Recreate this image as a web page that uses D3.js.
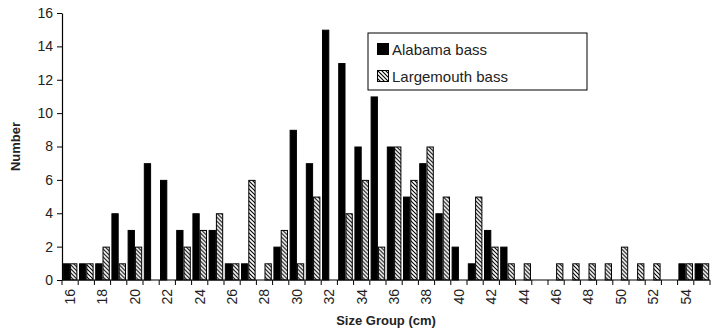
<!DOCTYPE html>
<html>
<head>
<meta charset="utf-8">
<script src="https://cdn.jsdelivr.net/npm/d3@7"></script>
<style>
  body { margin: 0; background: #fff; }
  svg { font-family: "Liberation Sans", Arial, sans-serif; }
</style>
</head>
<body>
<svg id="chart" width="723" height="333"></svg>
<script>
// Data
const sizeGroups = d3.range(16, 56);
const alabama = [1, 1, 1, 4, 3, 7, 6, 3, 4, 3, 1, 1, 0, 2, 9, 7, 15, 13, 8, 11, 8, 5, 7, 4, 2, 1, 3, 2, 0, 0, 0, 0, 0, 0, 0, 0, 0, 0, 1, 1];
const largemouth = [1, 1, 2, 1, 2, 0, 0, 2, 3, 4, 1, 6, 1, 3, 1, 5, 0, 4, 6, 2, 8, 6, 8, 5, 0, 5, 2, 1, 1, 0, 1, 1, 1, 1, 2, 1, 1, 0, 1, 1];
const yTicks = [0, 2, 4, 6, 8, 10, 12, 14, 16];
const seriesNames = ["Alabama bass", "Largemouth bass"];

const margin = { top: 13, right: 13, bottom: 53, left: 62 };
const width = 723 - margin.left - margin.right;
const height = 333 - margin.top - margin.bottom;

const svg = d3.select("#chart");

// hatch pattern
const defs = svg.append("defs");
const pat = defs.append("pattern")
  .attr("id", "hatch")
  .attr("patternUnits", "userSpaceOnUse")
  .attr("width", 4).attr("height", 4);
pat.append("rect").attr("width", 4).attr("height", 4).attr("fill", "#fff");
pat.append("path")
  .attr("d", "M-1,-1 L5,5 M-1,3 L1,5 M3,-1 L5,1")
  .attr("stroke", "#000").attr("stroke-width", 1.1);

const g = svg.append("g")
  .attr("transform", "translate(" + margin.left + "," + margin.top + ")");

const x = d3.scaleBand()
  .domain(sizeGroups)
  .range([0, width])
  .paddingInner(0.1)
  .paddingOuter(0.05);

const x1 = d3.scaleBand()
  .domain([0, 1])
  .range([0, x.bandwidth()]);

const y = d3.scaleLinear()
  .domain([0, 16])
  .range([height, 0]);

const rows = sizeGroups.map((s, i) => ({ key: s, values: [alabama[i], largemouth[i]] }));

// bars
const grp = g.selectAll(".grp")
  .data(rows)
  .enter().append("g")
  .attr("class", "grp")
  .attr("transform", (d) => "translate(" + x(d.key) + ",0)");

grp.selectAll("rect")
  .data((d) => d.values.map((v, k) => ({ k: k, v: v })).filter((e) => e.v > 0))
  .enter().append("rect")
  .attr("x", (d) => x1(d.k) + 0.5)
  .attr("width", x1.bandwidth() - 1)
  .attr("y", (d) => y(d.v) + 0.5)
  .attr("height", (d) => height - y(d.v) - 0.5)
  .attr("fill", (d) => d.k === 0 ? "#000" : "url(#hatch)")
  .attr("stroke", "#000")
  .attr("stroke-width", 1);

// y axis
g.append("g")
  .attr("class", "axis")
  .call(d3.axisLeft(y).tickValues(yTicks).tickSize(5).tickSizeOuter(0))
  .call((a) => a.select(".domain").attr("stroke", "#000").attr("stroke-width", 1.2))
  .call((a) => a.selectAll(".tick line").attr("stroke", "#000"))
  .selectAll(".tick text")
  .attr("font-size", 14)
  .attr("fill", "#222")
  .attr("x", -9);

// x axis (ticks at category boundaries, labels on even groups)
const xa = g.append("g").attr("transform", "translate(0," + height + ")");
xa.append("line")
  .attr("x1", 0).attr("x2", width)
  .attr("stroke", "#000").attr("stroke-width", 1.2);
const step = x.step();
const bounds = d3.range(sizeGroups.length + 1).map((i) => x(sizeGroups[0]) - step * x.paddingInner() / 2 + i * step);
xa.selectAll(".tk")
  .data(bounds)
  .enter().append("line")
  .attr("x1", (d) => d).attr("x2", (d) => d)
  .attr("y1", 0).attr("y2", 5)
  .attr("stroke", "#000");
xa.selectAll(".lbl")
  .data(sizeGroups.filter((s) => s % 2 === 0))
  .enter().append("text")
  .attr("transform", (d) => "translate(" + (x(d) + x.bandwidth() / 2) + ",9) rotate(-90)")
  .attr("text-anchor", "end")
  .attr("dy", "0.35em")
  .attr("font-size", 14)
  .attr("fill", "#222")
  .text((d) => d);

// axis titles
svg.append("text")
  .attr("x", margin.left + width / 2)
  .attr("y", 325)
  .attr("text-anchor", "middle")
  .attr("font-size", 13)
  .attr("font-weight", "bold")
  .attr("fill", "#222")
  .text("Size Group (cm)");

svg.append("text")
  .attr("transform", "translate(20," + (margin.top + height / 2) + ") rotate(-90)")
  .attr("text-anchor", "middle")
  .attr("font-size", 13)
  .attr("font-weight", "bold")
  .attr("fill", "#222")
  .text("Number");

// legend
const leg = svg.append("g").attr("transform", "translate(368,33)");
leg.append("rect")
  .attr("width", 219).attr("height", 57)
  .attr("fill", "#fff").attr("stroke", "#000").attr("stroke-width", 1);
seriesNames.forEach((name, i) => {
  leg.append("rect")
    .attr("x", 9.5).attr("y", 10.5 + i * 27)
    .attr("width", 11).attr("height", 11)
    .attr("fill", i === 0 ? "#000" : "url(#hatch)")
    .attr("stroke", "#000");
  leg.append("text")
    .attr("x", 24).attr("y", 22 + i * 27)
    .attr("font-size", 15)
    .attr("fill", "#222")
    .text(name);
});
</script>
</body>
</html>
